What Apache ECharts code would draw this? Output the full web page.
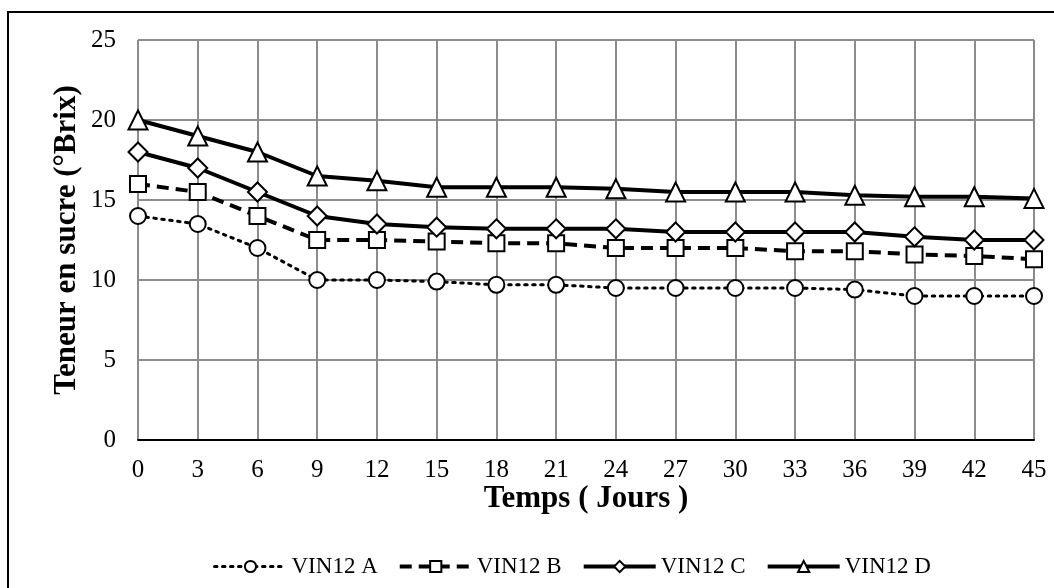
<!DOCTYPE html>
<html>
<head>
<meta charset="utf-8">
<title>Teneur en sucre</title>
<script src="https://cdn.jsdelivr.net/npm/echarts@6/dist/echarts.min.js"></script>
<style>
    html, body { margin: 0; padding: 0; background: #fff; }
    #chart { width: 1054px; height: 588px; }
</style>
</head>
<body>
<div id="chart"></div>
<script>
// jours de mesure
const jours = ['0', '3', '6', '9', '12', '15', '18', '21', '24', '27', '30', '33', '36', '39', '42', '45'];

// teneur en sucre (°Brix)
const vinA = [14, 13.5, 12, 10, 10, 9.9, 9.7, 9.7, 9.5, 9.5, 9.5, 9.5, 9.4, 9, 9, 9];
const vinB = [16, 15.5, 14, 12.5, 12.5, 12.4, 12.3, 12.3, 12, 12, 12, 11.8, 11.8, 11.6, 11.5, 11.3];
const vinC = [18, 17, 15.5, 14, 13.5, 13.3, 13.2, 13.2, 13.2, 13, 13, 13, 13, 12.7, 12.5, 12.5];
const vinD = [20, 19, 18, 16.5, 16.2, 15.8, 15.8, 15.8, 15.7, 15.5, 15.5, 15.5, 15.3, 15.2, 15.2, 15.1];

const FONT = '"Liberation Serif", "Times New Roman", serif';

// styles de trait des 4 vins
const styleA = { width: 3, type: [2.5, 5.5], cap: 'round' };
const styleB = { width: 4, type: [12, 7] };
const styleC = { width: 4, type: 'solid' };
const styleD = { width: 4, type: 'solid' };

function serie(nom, data, symbol, size, lineStyle) {
    return {
        name: nom,
        type: 'line',
        data: data,
        symbol: symbol,
        symbolSize: size,
        showAllSymbol: true,
        lineStyle: Object.assign({ color: '#000' }, lineStyle),
        itemStyle: { color: '#fff', borderColor: '#000', borderWidth: 2 },
        emphasis: { disabled: true },
        z: 3
    };
}

const chart = echarts.init(document.getElementById('chart'));

chart.setOption({
    animation: false,
    backgroundColor: '#fff',
    textStyle: { fontFamily: FONT, color: '#000' },
    graphic: [{
        type: 'rect',
        shape: { x: 8, y: 12, width: 1100, height: 700 },
        style: { fill: 'none', stroke: '#000', lineWidth: 2 },
        silent: true
    }],
    grid: { left: 138, right: 20, top: 40, bottom: 148 },
    legend: {
        left: 208,
        top: 550,
        itemWidth: 72,
        itemHeight: 14,
        itemGap: 20,
        textStyle: { fontFamily: FONT, fontSize: 23, color: '#000' },
        data: [
            { name: 'VIN12 A', lineStyle: styleA },
            { name: 'VIN12 B', lineStyle: styleB },
            { name: 'VIN12 C', lineStyle: styleC },
            { name: 'VIN12 D', lineStyle: styleD }
        ]
    },
    xAxis: {
        type: 'category',
        data: jours,
        boundaryGap: false,
        name: 'Temps ( Jours )',
        nameLocation: 'middle',
        nameGap: 43,
        nameMoveOverlap: false,
        nameTextStyle: { fontFamily: FONT, fontSize: 31, fontWeight: 'bold', color: '#000' },
        axisLine: { lineStyle: { color: '#000', width: 2 } },
        axisTick: { show: false },
        axisLabel: { fontFamily: FONT, fontSize: 25, color: '#000', margin: 18 },
        splitLine: { show: true, lineStyle: { color: '#8c8c8c', width: 2 } }
    },
    yAxis: {
        type: 'value',
        min: 0,
        max: 25,
        interval: 5,
        name: 'Teneur en sucre (°Brix)',
        nameLocation: 'middle',
        nameGap: 56,
        nameMoveOverlap: false,
        nameTextStyle: { fontFamily: FONT, fontSize: 31, fontWeight: 'bold', color: '#000' },
        axisLine: { show: false },
        axisTick: { show: false },
        axisLabel: { fontFamily: FONT, fontSize: 25, color: '#000', margin: 22 },
        splitLine: { show: true, lineStyle: { color: '#8c8c8c', width: 2 } }
    },
    series: [
        serie('VIN12 A', vinA, 'circle', 16, styleA),
        serie('VIN12 B', vinB, 'rect', 16, styleB),
        serie('VIN12 C', vinC, 'diamond', 19, styleC),
        serie('VIN12 D', vinD, 'triangle', 19, styleD)
    ]
});
</script>
</body>
</html>
